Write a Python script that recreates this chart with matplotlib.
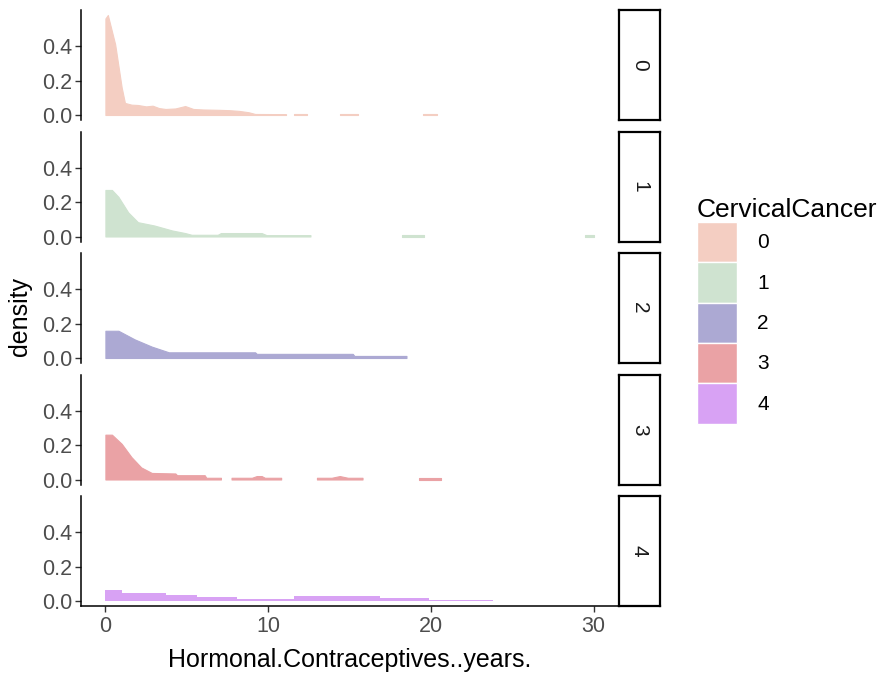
import numpy as np
import matplotlib
matplotlib.use("Agg")
import matplotlib.pyplot as plt
import matplotlib.patches as mpatches

nan = np.nan

# ─── DATA ───────────────────────────────────────────────────────────────────
groups = ["0", "1", "2", "3", "4"]

x0 = [0.0, 0.15, 0.6, 1.0, 1.2, 1.6, 2.0, 2.5, 2.9, 3.3, 3.7, 4.3, 4.9, 5.4, 6.0, 7.0, 7.6, 8.2, 8.8, 9.2, 11.1,
      nan, 11.6, 12.4, nan, 14.4, 15.5, nan, 19.5, 20.4]
d0 = [0.56, 0.58, 0.41, 0.16, 0.07, 0.06, 0.058, 0.05, 0.054, 0.04, 0.035, 0.038, 0.052, 0.035, 0.032, 0.03, 0.028,
      0.024, 0.016, 0.006, 0.005, nan, 0.004, 0.004, nan, 0.004, 0.004, nan, 0.004, 0.004]

x1 = [0.0, 0.4, 0.8, 1.4, 2.0, 3.0, 4.1, 4.9, 5.3, 6.9, 7.1, 9.6, 9.9, 12.6, nan, 18.2, 19.6, nan, 29.5, 30.0]
d1 = [0.27, 0.27, 0.23, 0.14, 0.083, 0.064, 0.035, 0.02, 0.01, 0.01, 0.02, 0.02, 0.008, 0.008,
      nan, 0.006, 0.006, nan, 0.006, 0.006]

x2 = [0.0, 0.8, 1.8, 2.85, 3.9, 9.2, 9.3, 15.2, 15.3, 18.5]
d2 = [0.158, 0.158, 0.108, 0.066, 0.033, 0.033, 0.024, 0.024, 0.012, 0.012]

x3 = [0.0, 0.4, 1.0, 1.6, 2.2, 2.85, 4.3, 4.4, 6.1, 6.2, 7.1, nan, 7.75, 9.0, 9.3, 9.6, 9.8, 10.8,
      nan, 13.0, 13.9, 14.4, 14.9, 15.8, nan, 19.3, 20.6]
d3 = [0.26, 0.26, 0.207, 0.13, 0.07, 0.038, 0.035, 0.025, 0.025, 0.01, 0.01, nan, 0.01, 0.01, 0.02, 0.02, 0.01, 0.01,
      nan, 0.01, 0.01, 0.02, 0.01, 0.01, nan, 0.01, 0.01]

# group 4 is blocky, stored as step edges
x4 = [0.0, 1.0, 3.75, 5.6, 8.1, 11.6, 16.9, 19.9, 23.8]
d4 = [0.062, 0.048, 0.036, 0.025, 0.013, 0.028, 0.017, 0.006, 0.006]

xs = [x0, x1, x2, x3, x4]
ds = [d0, d1, d2, d3, d4]

colors = ["#F4CEC2", "#CFE3D0", "#ACA9D3", "#EAA2A5", "#D8A2F4"]

x_ticks = [0, 10, 20, 30]
y_ticks = [0.0, 0.2, 0.4]
x_label = "Hormonal.Contraceptives..years."
y_label = "density"
legend_title = "CervicalCancer"
# ────────────────────────────────────────────────────────────────────────────

plt.rcParams["font.family"] = ["Liberation Sans", "DejaVu Sans"]

W, H = 885, 673
fig = plt.figure(figsize=(W / 100, H / 100), dpi=100)


def px_axes(left, top, right, bottom):
    """Add axes given pixel box (origin top-left)."""
    return fig.add_axes([left / W, 1 - bottom / H, (right - left) / W, (bottom - top) / H])


def segments(x, y):
    """Split arrays on NaN gaps."""
    x = np.asarray(x, float)
    y = np.asarray(y, float)
    bad = np.isnan(x) | np.isnan(y)
    out, start = [], 0
    for i in np.append(np.where(bad)[0], len(x)):
        if i > start:
            out.append((x[start:i], y[start:i]))
        start = i + 1
    return out


tick_col = "#4D4D4D"
tick_fs = 15.5
panel_h = 110
step_y = 121.5

for i, g in enumerate(groups):
    top = 10 + i * step_y
    bot = top + panel_h
    ax = px_axes(81, top, 618, bot)
    if i == 4:
        ax.fill_between(xs[i], ds[i], 0, step="post", color=colors[i], lw=0)
    else:
        for sx, sy in segments(xs[i], ds[i]):
            ax.fill_between(sx, sy, 0, color=colors[i], lw=0.8, edgecolor=colors[i])
    ax.set_xlim(-1.5, 31.5)
    ax.set_ylim(-0.029, 0.609)
    ax.set_yticks(y_ticks)
    ax.set_yticklabels([f"{v:.1f}" for v in y_ticks])
    for s in ["top", "right"]:
        ax.spines[s].set_visible(False)
    ax.spines["left"].set_linewidth(1.1)
    ax.tick_params(axis="y", length=4, width=1.0, colors="#333333", labelcolor=tick_col,
                   labelsize=tick_fs, pad=2)
    if i == 4:
        ax.set_xticks(x_ticks)
        ax.spines["bottom"].set_linewidth(1.1)
        ax.tick_params(axis="x", length=4, width=1.0, colors="#333333", labelcolor=tick_col,
                       labelsize=tick_fs, pad=3)
        ax.set_xlabel(x_label, fontsize=18, color="black", labelpad=8)
    else:
        ax.spines["bottom"].set_visible(False)
        ax.set_xticks([])

    # facet strip
    sax = px_axes(619, top, 660, bot)
    sax.set_xticks([])
    sax.set_yticks([])
    for s in sax.spines.values():
        s.set_linewidth(1.6)
        s.set_color("black")
    sax.text(0.5, 0.5, g, rotation=-90, ha="center", va="center", fontsize=15,
             color="#1A1A1A", transform=sax.transAxes)

fig.text(20 / W, 1 - 317 / H, y_label, rotation=90, ha="center", va="center", fontsize=18)

handles = [mpatches.Patch(facecolor=c, edgecolor="white", lw=1.0, label=g) for g, c in zip(groups, colors)]
leg = fig.legend(handles=handles, title=legend_title, loc="upper left",
                 bbox_to_anchor=(697 / W, 1 - 198 / H), frameon=False, fontsize=15,
                 title_fontsize=19, handlelength=1.9, handleheight=2.6,
                 labelspacing=0.0, handletextpad=1.0, borderpad=0, borderaxespad=0)
leg._legend_box.align = "left"

fig.savefig("out.png", dpi=100, facecolor="white")
